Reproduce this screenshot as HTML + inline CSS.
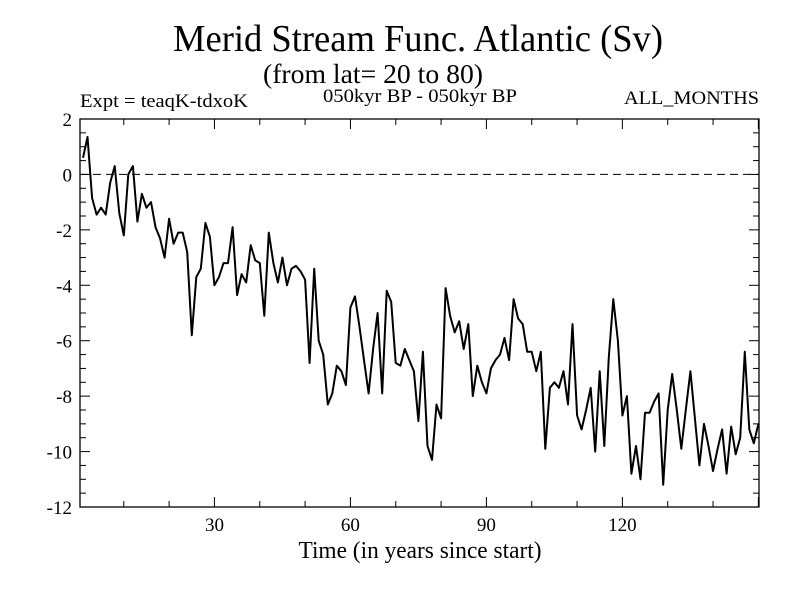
<!DOCTYPE html>
<html><head><meta charset="utf-8"><style>
html,body{margin:0;padding:0;background:#fff;}
svg{display:block;font-family:"Liberation Serif",serif;}
</style></head><body>
<svg id="chart" width="800" height="600" viewBox="0 0 800 600" xmlns="http://www.w3.org/2000/svg">
<rect width="800" height="600" fill="#fff"/>
<text x="418" y="51" font-size="38" text-anchor="middle" textLength="490" lengthAdjust="spacingAndGlyphs">Merid Stream Func. Atlantic (Sv)</text>
<text x="373" y="83" font-size="27" text-anchor="middle" textLength="220" lengthAdjust="spacingAndGlyphs">(from lat= 20 to 80)</text>
<text x="80" y="107" font-size="19" textLength="168" lengthAdjust="spacingAndGlyphs">Expt = teaqK-tdxoK</text>
<text x="420" y="102" font-size="19" text-anchor="middle" textLength="194" lengthAdjust="spacingAndGlyphs">050kyr BP - 050kyr BP</text>
<text x="759" y="104" font-size="19" text-anchor="end" textLength="135" lengthAdjust="spacingAndGlyphs">ALL_MONTHS</text>
<text x="420" y="558" font-size="24" text-anchor="middle" textLength="243" lengthAdjust="spacingAndGlyphs">Time (in years since start)</text>
<g id="axes"></g>
<g id="series"></g>
</svg>
<script>
const yTickValues = [2, 0, -2, -4, -6, -8, -10, -12];
const yTickLabels = ["2", "0", "-2", "-4", "-6", "-8", "-10", "-12"];
const xTickValues = [30, 60, 90, 120];
const xTickLabels = ["30", "60", "90", "120"];
const amocValues = [
0.6,1.35,-0.85,-1.45,-1.2,-1.45,-0.3,0.3,-1.4,-2.2,
0,0.3,-1.7,-0.7,-1.2,-1.0,-1.9,-2.3,-3.0,-1.6,
-2.5,-2.1,-2.1,-2.8,-5.8,-3.7,-3.4,-1.75,-2.25,-4.0,
-3.7,-3.2,-3.2,-1.9,-4.35,-3.6,-3.9,-2.55,-3.1,-3.2,
-5.1,-2.1,-3.2,-3.9,-3.0,-4.0,-3.4,-3.3,-3.5,-3.8,
-6.8,-3.4,-6.0,-6.5,-8.3,-7.9,-6.9,-7.1,-7.6,-4.8,
-4.4,-5.5,-6.7,-7.9,-6.3,-5.0,-7.9,-4.2,-4.6,-6.8,
-6.9,-6.3,-6.7,-7.1,-8.9,-6.4,-9.8,-10.3,-8.3,-8.8,
-4.1,-5.1,-5.7,-5.3,-6.3,-5.4,-8.0,-6.9,-7.5,-7.9,
-7.0,-6.7,-6.5,-5.9,-6.7,-4.5,-5.2,-5.4,-6.4,-6.4,
-7.1,-6.4,-9.9,-7.7,-7.5,-7.7,-7.1,-8.3,-5.4,-8.7,
-9.2,-8.5,-7.7,-10.0,-7.1,-9.8,-6.6,-4.5,-6.0,-8.7,
-8.0,-10.8,-9.8,-11.0,-8.6,-8.6,-8.2,-7.9,-11.2,-8.5,
-7.2,-8.5,-9.9,-8.5,-7.1,-8.8,-10.5,-9.0,-9.8,-10.7,
-9.9,-9.2,-10.8,-9.1,-10.1,-9.5,-6.4,-9.2,-9.7,-9.0
];
const years = amocValues.map((v, i) => i + 1);

const L = 80, R = 759, T = 119, B = 507;
const xMin = 0.34, xMax = 150.14, yMin = -12, yMax = 2;
const NS = "http://www.w3.org/2000/svg";
function xScale(t){ return L + (t - xMin) / (xMax - xMin) * (R - L); }
function yScale(v){ return B - (v - yMin) / (yMax - yMin) * (B - T); }
function mk(tag, attrs, parent){
  const e = document.createElementNS(NS, tag);
  for (const k in attrs) e.setAttribute(k, attrs[k]);
  parent.appendChild(e); return e;
}
const axes = document.getElementById('axes');
const frame = mk('rect', {x:L, y:T, width:R-L, height:B-T, fill:'none', stroke:'#000', 'stroke-width':1.3}, axes);


for (let v = yMin; v <= yMax + 1e-9; v += 0.5) {
  const y = yScale(v);
  const major = Math.abs(v % 2) < 1e-9;
  const len = major ? 10 : 6;
  mk('line', {x1:L, x2:L+len, y1:y, y2:y, stroke:'#000', 'stroke-width':1}, axes);
  mk('line', {x1:R, x2:R-len, y1:y, y2:y, stroke:'#000', 'stroke-width':1}, axes);
}
yTickValues.forEach((v, i) => {
  const t = mk('text', {x:L-8, y:yScale(v)+7, 'font-size':19, 'text-anchor':'end'}, axes);
  t.textContent = yTickLabels[i];
  
  
});
for (let t = 10; t < xMax; t += 10) {
  const x = xScale(t);
  const major = t % 30 === 0;
  const len = major ? 10 : 6;
  mk('line', {x1:x, x2:x, y1:B, y2:B-len, stroke:'#000', 'stroke-width':1}, axes);
  mk('line', {x1:x, x2:x, y1:T, y2:T+len, stroke:'#000', 'stroke-width':1}, axes);
}
xTickValues.forEach((v, i) => {
  const t = mk('text', {x:xScale(v), y:B+24, 'font-size':19, 'text-anchor':'middle'}, axes);
  t.textContent = xTickLabels[i];
  
  
});
const zl = mk('line', {x1:L, x2:R, y1:yScale(0), y2:yScale(0), stroke:'#000', 'stroke-width':1, 'stroke-dasharray':'8,5'}, axes);


const series = document.getElementById('series');
const pts = years.map((t, i) => xScale(t).toFixed(1) + ',' + yScale(amocValues[i]).toFixed(1)).join(' ');
const line = mk('polyline', {points:pts, fill:'none', stroke:'#000', 'stroke-width':2, 'stroke-linejoin':'round'}, series);


</script>
</body></html>
